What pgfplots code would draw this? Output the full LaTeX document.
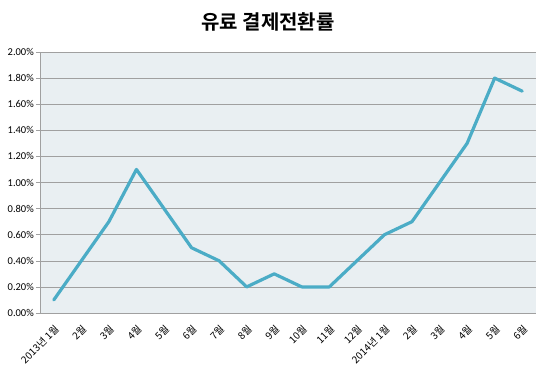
\documentclass[border=0pt]{standalone}
\usepackage{pgfplots}
\pgfplotsset{compat=1.18}
\usepackage{fontspec}
\setmainfont{Carlito}
\newfontfamily\kr{Noto Sans CJK KR}
\newfontfamily\krb{Noto Sans CJK KR Bold}
\usetikzlibrary{calc}
\definecolor{linec}{HTML}{4BACC6}
\definecolor{bgc}{HTML}{E9EFF2}
\definecolor{gridc}{HTML}{A0A0A0}
\begin{document}
\begin{tikzpicture}
\begin{axis}[
  name=ax,
  scale only axis,
  width=496pt, height=261pt,
  xmin=-0.5, xmax=17.5,
  ymin=0, ymax=2,
  axis x line=bottom, axis y line=left,
  axis line style={gridc, -},
  axis background/.style={fill=bgc},
  ytick={0,0.2,...,2.01},
  ymajorgrids, major grid style={gridc, line width=0.6pt},
  yticklabel={\pgfmathprintnumber[fixed,fixed zerofill,precision=2]{\tick}\%},
  /pgf/number format/assume math mode=true,
  yticklabel style={font=\fontsize{10.5}{12}\selectfont, text=black, inner sep=1pt, xshift=-1pt},
  y tick style={gridc, line width=0.6pt},
  major tick length=4pt,
  tick align=outside,
  xtick={0,...,17},
  xticklabels={2013년 1월,2월,3월,4월,5월,6월,7월,8월,9월,10월,11월,12월,2014년 1월,2월,3월,4월,5월,6월},
  x tick style={draw=none},
  minor xtick={-0.5,0.5,...,17.6},
  minor x tick style={gridc, line width=0.6pt},
  minor tick length=4pt,
  xticklabel style={font=\kr\fontsize{10}{11}\selectfont, rotate=45, anchor=north east, inner sep=0pt, xshift=-5pt, yshift=-5pt, text=black},
  clip=false,
]
\addplot[linec, line width=3.2pt, line join=round, line cap=round] coordinates {
(0,0.1) (1,0.4) (2,0.7) (3,1.1) (4,0.8) (5,0.5) (6,0.4) (7,0.2) (8,0.3)
(9,0.2) (10,0.2) (11,0.4) (12,0.6) (13,0.7) (14,1.0) (15,1.3) (16,1.8) (17,1.7)
};
\end{axis}
\node[font=\krb\fontsize{20}{22}\selectfont] at ($(ax.north west)+(228pt,30pt)$) {유료 결제전환률};
\pgfresetboundingbox
\useasboundingbox ($(ax.south west)+(-40pt,-51pt)$) rectangle ($(ax.north east)+(1pt,52pt)$);
\end{tikzpicture}
\end{document}
